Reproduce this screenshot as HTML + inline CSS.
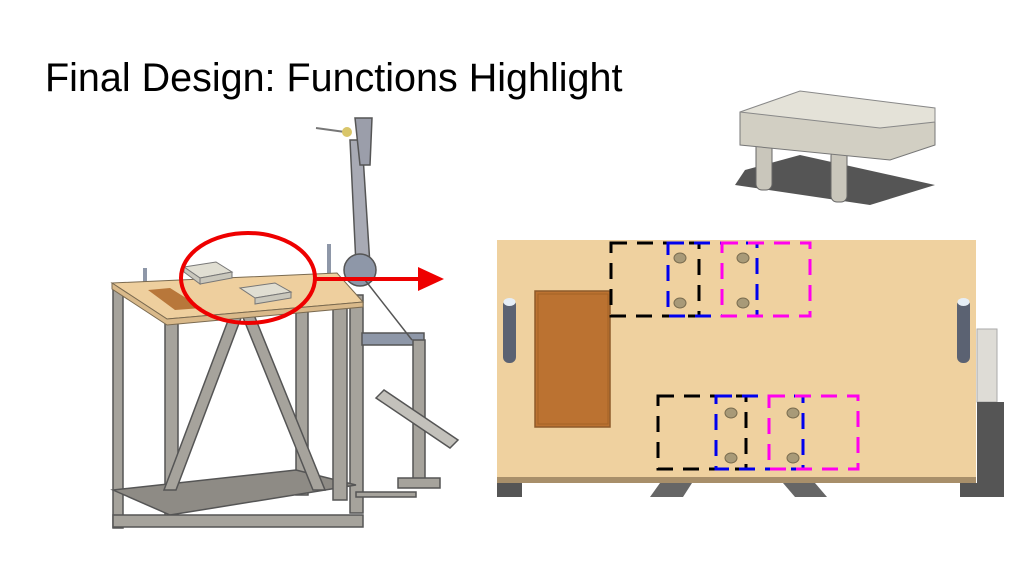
<!DOCTYPE html>
<html><head><style>
body{margin:0;background:#fff;}
svg{display:block;}
text{font-family:"Liberation Sans",sans-serif;}
</style></head><body>
<svg width="1024" height="575" viewBox="0 0 1024 575" xmlns="http://www.w3.org/2000/svg">
<rect width="1024" height="575" fill="#fff"/>
<text x="45" y="91" font-size="39.5" fill="#000">Final Design: Functions Highlight</text>

<!-- stool -->
<polygon points="745,170 800,155 935,185 870,205 735,185" fill="#555"/>
<rect x="756" y="140" width="16" height="50" rx="6" fill="#c9c6bb" stroke="#666"/>
<rect x="831" y="150" width="16" height="52" rx="6" fill="#c9c6bb" stroke="#666"/>
<polygon points="740,112 790,110 935,122 935,145 890,160 740,145" fill="#d2cfc3" stroke="#777"/>
<polygon points="740,112 800,91 935,108 935,122 880,128" fill="#e4e2d8" stroke="#888"/>

<!-- left machine -->
<g stroke="#555" stroke-width="1.5" fill="#a6a39c">
<rect x="113" y="290" width="10" height="238"/>
<rect x="165" y="315" width="13" height="210"/>
<rect x="296" y="295" width="12" height="200"/>
<rect x="350" y="295" width="13" height="218"/>
<polygon points="113,490 296,470 356,485 170,515" fill="#8e8b85"/>
<rect x="113" y="515" width="250" height="12"/>
<polygon points="232,310 244,310 176,490 164,490"/>
<polygon points="240,310 252,310 325,490 313,490"/>
<rect x="333" y="300" width="14" height="200"/>
<rect x="362" y="333" width="62" height="12" fill="#8e97a8"/>
<rect x="413" y="340" width="12" height="140"/>
<rect x="398" y="478" width="42" height="10"/>
<rect x="356" y="492" width="60" height="5"/>
<polygon points="376,398 384,390 458,440 450,448" fill="#c3c1bb"/>
<polygon points="350,140 362,140 370,265 356,265" fill="#a8aab4"/>
<polygon points="355,118 372,118 370,165 360,165" fill="#9b9eaa"/>
<circle cx="360" cy="270" r="16" fill="#8e97a8"/>
<line x1="365" y1="280" x2="412" y2="340"/>
</g>
<line x1="316" y1="128" x2="345" y2="132" stroke="#777" stroke-width="2"/>
<circle cx="347" cy="132" r="5" fill="#d9c66a"/>
<line x1="145" y1="268" x2="145" y2="300" stroke="#8e97a8" stroke-width="4"/>
<line x1="329" y1="244" x2="329" y2="285" stroke="#8e97a8" stroke-width="4"/>
<!-- tabletop -->
<polygon points="112,283 337,273 363,302 167,319" fill="#eecf9e" stroke="#7a6a50"/>
<polygon points="112,283 167,319 363,302 363,307 167,325 112,289" fill="#d9b98a" stroke="#7a6a50"/>
<polygon points="148,290 170,288 202,308 175,310" fill="#b8773a"/>
<polygon points="184,267 216,262 232,272 200,278" fill="#e0ded2" stroke="#777"/>
<polygon points="184,267 200,278 200,284 184,272" fill="#c9c7bc" stroke="#777"/>
<polygon points="200,278 232,272 232,278 200,284" fill="#c9c7bc" stroke="#777"/>
<polygon points="240,288 275,283 291,292 255,298" fill="#e0ded2" stroke="#777"/>
<polygon points="255,298 291,292 291,298 255,304" fill="#c9c7bc" stroke="#777"/>
<ellipse cx="248" cy="278" rx="67" ry="45" fill="none" stroke="#e00" stroke-width="4"/>
<line x1="315" y1="279" x2="425" y2="279" stroke="#e00" stroke-width="4"/>
<polygon points="418,267 444,279 418,291" fill="#e00"/>

<!-- right panel -->
<rect x="977" y="329" width="20" height="73" fill="#dedcd6" stroke="#aaa"/>
<rect x="977" y="402" width="27" height="95" fill="#555"/>
<rect x="497" y="483" width="25" height="14" fill="#555"/>
<rect x="960" y="483" width="18" height="14" fill="#555"/>
<polygon points="650,497 660,483 692,483 683,497" fill="#666"/>
<polygon points="783,483 815,483 827,497 795,497" fill="#666"/>
<rect x="497" y="240" width="479" height="237" fill="#efd19f"/>
<rect x="497" y="477" width="479" height="6" fill="#a88f6a"/>
<rect x="535" y="291" width="75" height="136" fill="#bb7231" stroke="#8e5a2a" stroke-width="1.5"/>
<rect x="538" y="294" width="70" height="130" fill="none" stroke="#a36225"/>
<rect x="503" y="299" width="13" height="64" rx="6" fill="#5b6272"/>
<ellipse cx="509.5" cy="302" rx="6" ry="4" fill="#e6eef6"/>
<rect x="957" y="299" width="13" height="64" rx="6" fill="#5b6272"/>
<ellipse cx="963.5" cy="302" rx="6" ry="4" fill="#e6eef6"/>
<g fill="none" stroke-width="3" stroke-dasharray="16,10">
<rect x="611" y="243" width="88" height="73" stroke="#000"/>
<rect x="668" y="243" width="89" height="73" stroke="#00e"/>
<rect x="722" y="243" width="88" height="73" stroke="#f0e"/>
<rect x="658" y="396" width="88" height="73" stroke="#000"/>
<rect x="716" y="396" width="87" height="73" stroke="#00e"/>
<rect x="769" y="396" width="89" height="73" stroke="#f0e"/>
</g>
<g fill="#a89a78" stroke="#7a6d50">
<ellipse cx="680" cy="258" rx="6" ry="5"/><ellipse cx="680" cy="303" rx="6" ry="5"/>
<ellipse cx="743" cy="258" rx="6" ry="5"/><ellipse cx="743" cy="303" rx="6" ry="5"/>
<ellipse cx="731" cy="413" rx="6" ry="5"/><ellipse cx="731" cy="458" rx="6" ry="5"/>
<ellipse cx="793" cy="413" rx="6" ry="5"/><ellipse cx="793" cy="458" rx="6" ry="5"/>
</g>
</svg>
</body></html>
